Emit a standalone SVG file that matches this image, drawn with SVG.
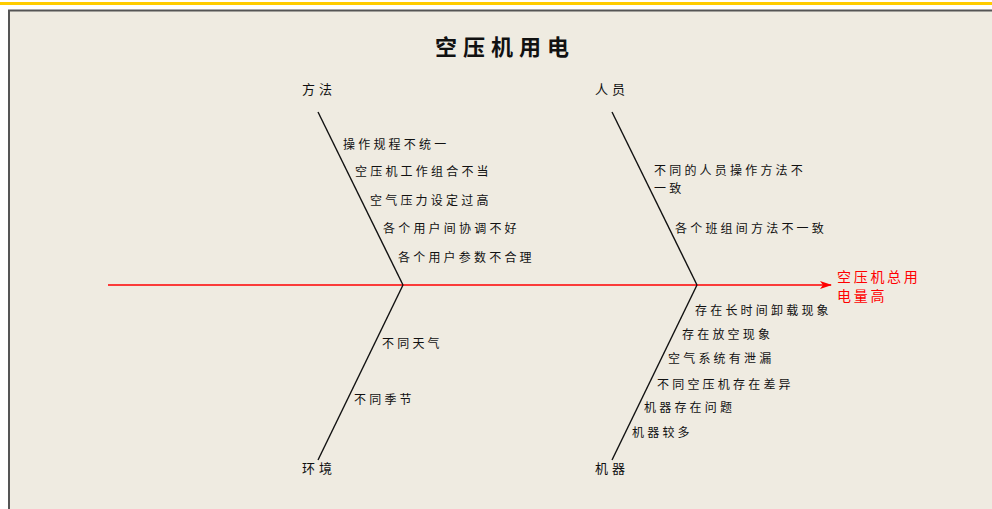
<svg xmlns="http://www.w3.org/2000/svg" width="992" height="509" viewBox="0 0 992 509">
<defs>
<style>
.t{font-family:"Noto Sans CJK SC","Liberation Sans",sans-serif;font-size:12px;fill:#111;letter-spacing:3.2px}
.cat{font-family:"Noto Sans CJK SC","Liberation Sans",sans-serif;font-size:13px;fill:#111;letter-spacing:4px}
.red{font-family:"Noto Sans CJK SC","Liberation Sans",sans-serif;font-size:14px;fill:#f00;letter-spacing:2.7px}
.title{font-family:"Noto Sans CJK SC","Liberation Sans",sans-serif;font-size:22px;font-weight:bold;fill:#111;letter-spacing:6px}
.bone{stroke:#111;stroke-width:1.4;fill:none}
.spine{stroke:#f00;stroke-width:1.3;fill:none}
</style>
<marker id="arr" markerWidth="12" markerHeight="8" refX="11" refY="4" orient="auto" markerUnits="userSpaceOnUse">
<path d="M0,0 L12,4 L0,8 L3,4 Z" fill="#f00"/>
</marker>
</defs>
<rect x="0" y="0" width="992" height="509" fill="#ffffff"/>
<rect x="0" y="2" width="992" height="3" fill="#ffcc00"/>
<rect x="9" y="10.5" width="990" height="500" fill="#efebe1" stroke="#555" stroke-width="2"/>

<g id="title"><text class="title" x="435" y="55">空压机用电</text></g>

<g id="connectors">
<line class="spine" x1="108" y1="285" x2="831" y2="285" marker-end="url(#arr)"/>
<line class="bone" x1="318" y1="112" x2="403" y2="285"/>
<line class="bone" x1="612" y1="112" x2="697" y2="285"/>
<line class="bone" x1="403" y1="285" x2="318" y2="460"/>
<line class="bone" x1="697" y1="285" x2="612" y2="460"/>
</g>

<g id="effect"><text class="red" x="837" y="282">空压机总用</text><text class="red" x="837" y="301">电量高</text></g>

<g id="method">
<text class="cat" x="302" y="94">方法</text>
<text class="t" x="343" y="149">操作规程不统一</text>
<text class="t" x="355" y="176">空压机工作组合不当</text>
<text class="t" x="370" y="205">空气压力设定过高</text>
<text class="t" x="383" y="233">各个用户间协调不好</text>
<text class="t" x="398" y="262">各个用户参数不合理</text>
</g>

<g id="people">
<text class="cat" x="595" y="94">人员</text>
<text class="t" x="654" y="175">不同的人员操作方法不</text>
<text class="t" x="654" y="193">一致</text>
<text class="t" x="675" y="233">各个班组间方法不一致</text>
</g>

<g id="environment">
<text class="cat" x="302" y="473">环境</text>
<text class="t" x="382" y="348">不同天气</text>
<text class="t" x="354" y="404">不同季节</text>
</g>

<g id="machine">
<text class="cat" x="595" y="473">机器</text>
<text class="t" x="695" y="315">存在长时间卸载现象</text>
<text class="t" x="682" y="339">存在放空现象</text>
<text class="t" x="668" y="363">空气系统有泄漏</text>
<text class="t" x="657" y="389">不同空压机存在差异</text>
<text class="t" x="644" y="412">机器存在问题</text>
<text class="t" x="632" y="437">机器较多</text>
</g>
</svg>
